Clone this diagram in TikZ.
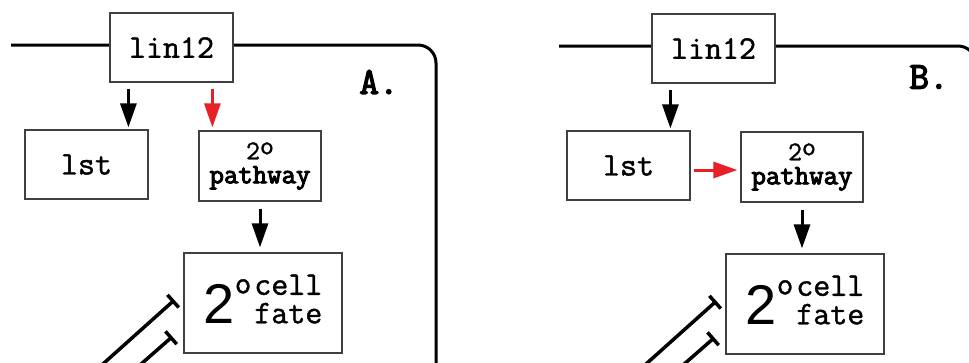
\documentclass[tikz,border=0pt]{standalone}
\usepackage{fontspec}
\usepackage{tikz}
\usetikzlibrary{arrows.meta}

\newfontfamily\genefont{Latin Modern Mono}[FakeBold=1.2]
\newfontfamily\geneboldfont{Latin Modern Mono}[FakeBold=3.5]
\newfontfamily\twofont{Liberation Sans}
\definecolor{actred}{RGB}{232,32,40}

\tikzset{
	gene/.style={draw=black!75, line width=1.2pt, fill=white, inner sep=0pt,
		minimum width=123pt, minimum height=69pt,
		font=\genefont\fontsize{33}{27}\selectfont},
	pathbox/.style={gene, minimum width=122pt, minimum height=70pt, align=center,
		font=\genefont\fontsize{27}{24}\selectfont},
	fatebox/.style={gene, minimum width=158pt, minimum height=100pt},
	panel/.style={font=\geneboldfont\fontsize{38}{38}\selectfont},
	act/.style={line width=3pt, -{Triangle[length=24pt,width=16pt]}},
	inhib/.style={line width=3.5pt, -{Bar[width=17pt,line width=3.5pt]}},
	membrane/.style={line width=3pt, rounded corners=18pt}
}

% 2o cell fate text
\newcommand{\fatetext}{{\twofont\fontsize{56}{56}\selectfont 2}\raisebox{30pt}{\fontsize{32}{32}\selectfont o}\hspace{3pt}\begin{tabular}[b]{@{}l@{}}cell\\fate\end{tabular}}
\newcommand{\pathtext}{2\raisebox{5pt}{o}\\{\geneboldfont\fontsize{28}{24}\selectfont pathway}}

\begin{document}
\begin{tikzpicture}[x=1pt, y=-1pt]
	\useasboundingbox (0,0) rectangle (969,362);
	\clip (0,0) rectangle (969,362);

	% A: lin12 -> lst and 2o pathway
	\draw[membrane] (11,45) -- (436,45) -- (436,380);
	\node[gene] (linA) at (171.5,47.5) {lin12};
	\node[gene] (lstA) at (86.5,164.5) {lst};
	\node[pathbox] (pathA) at (260,166) {\pathtext};
	\node[fatebox] (fateA) at (263,303) {\fatetext};
	\node[panel] (labA) at (379,82) {A.};
	\coordinate (stubA1) at (94,372);
	\coordinate (stubA2) at (132,372);

	\draw[act, shorten <=6pt, shorten >=2pt] ([xshift=19pt]linA.south west) -- ([xshift=19pt]linA.south west |- lstA.north);
	\draw[act, actred, shorten <=6pt, shorten >=3pt] ([xshift=14pt]pathA.north west |- linA.south) -- ([xshift=14pt]pathA.north west);
	\draw[act, shorten <=7pt, shorten >=5pt] (pathA.south) -- (pathA.south |- fateA.north);
	\draw[inhib] (stubA1) -- ([shift={(-9,-3)}]fateA.west);
	\draw[inhib] (stubA2) -- ([shift={(-11,-17)}]fateA.south west);

	% B: lst -> 2o pathway
	\begin{scope}[shift={(542,1)}]
		\draw[membrane] (17,45) -- (434,45) -- (434,380);
		\node[gene] (linB) at (171.5,47.5) {lin12};
		\node[gene] (lstB) at (86.5,164.5) {lst};
		\node[pathbox] (pathB) at (260,166) {\pathtext};
		\node[fatebox] (fateB) at (263,303) {\fatetext};
		\node[panel] (labB) at (387,76) {B.};
		\coordinate (stubB1) at (94,372);
		\coordinate (stubB2) at (132,372);

		\draw[act, shorten <=6pt, shorten >=2pt] ([xshift=19pt]linB.south west) -- ([xshift=19pt]linB.south west |- lstB.north);
		\draw[act, actred, shorten <=3pt, shorten >=3pt] ([yshift=-4.5pt]lstB.east) -- ([yshift=-4.5pt]lstB.east -| pathB.west);
		\draw[act, shorten <=7pt, shorten >=5pt] (pathB.south) -- (pathB.south |- fateB.north);
		\draw[inhib] (stubB1) -- ([shift={(-9,-3)}]fateB.west);
		\draw[inhib] (stubB2) -- ([shift={(-11,-17)}]fateB.south west);
	\end{scope}
\end{tikzpicture}
\end{document}
